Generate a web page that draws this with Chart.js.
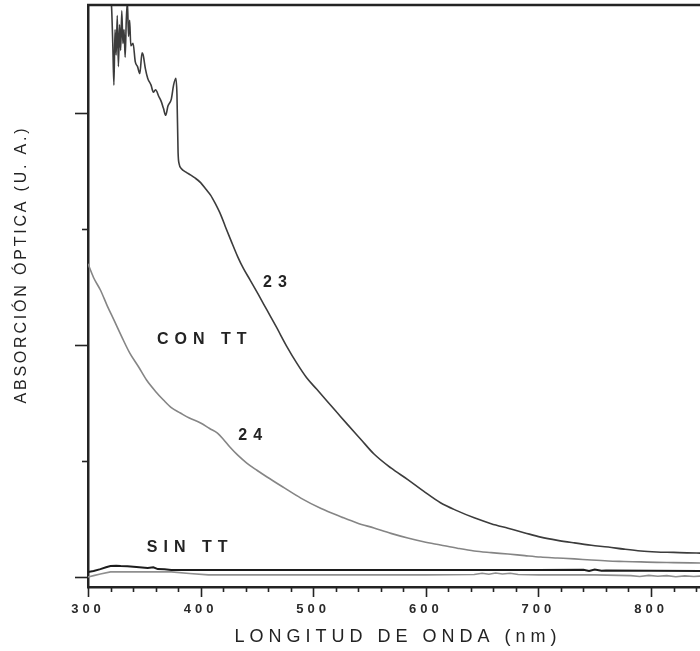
<!DOCTYPE html>
<html>
<head>
<meta charset="utf-8">
<title>Absorción óptica</title>
<script src="https://cdn.jsdelivr.net/npm/chart.js@4.4.1/dist/chart.umd.min.js"></script>
<style>
  html, body { margin: 0; padding: 0; background: #fff; }
  #wrap { width: 700px; height: 651px; }
</style>
</head>
<body>
<div id="wrap"><canvas id="spectra" width="700" height="651"></canvas></div>
<script>
// Sample 23, with heat treatment (CON TT)
const wl23 = [318, 321, 322, 323, 324, 325, 326, 327, 328, 329, 330, 331, 332, 333, 334, 335, 336, 337, 338,
  340, 342, 344, 346, 348, 349, 351, 353, 356, 358, 360, 363, 365, 367, 369, 371, 374, 376, 378, 379, 380,
  381, 383, 387, 391, 395, 400, 405, 409, 413, 418, 422, 427, 433, 438, 444, 451, 459, 467, 477, 485, 494, 503, 512,
  521, 530, 542, 554, 569, 584, 598, 613, 628, 643, 658, 673, 688, 702, 717, 732, 747, 762, 776, 791, 805, 820, 832, 844];
const abs23 = [2.62, 2.45, 2.30, 2.12, 2.36, 2.25, 2.42, 2.20, 2.38, 2.27, 2.44, 2.30, 2.36, 2.24, 2.40, 2.48, 2.33, 2.40, 2.29,
  2.30, 2.22, 2.20, 2.17, 2.26, 2.25, 2.19, 2.15, 2.12, 2.09, 2.10, 2.07, 2.05, 2.02, 1.99, 2.03, 2.06, 2.12, 2.15, 2.08, 1.83,
  1.78, 1.76, 1.745, 1.733, 1.72, 1.70, 1.67, 1.645, 1.61, 1.56, 1.51, 1.45, 1.38, 1.33, 1.28, 1.22, 1.15, 1.08, 0.99, 0.925, 0.86, 0.81, 0.76,
  0.71, 0.66, 0.595, 0.53, 0.47, 0.42, 0.37, 0.32, 0.285, 0.255, 0.23, 0.21, 0.19, 0.172, 0.158, 0.147, 0.137, 0.129, 0.12, 0.112, 0.108, 0.106, 0.104, 0.103];

// Sample 24, with heat treatment (CON TT)
const wl24 = [300, 305, 311, 317, 323, 330, 337, 345, 352, 360, 367, 374, 382, 390, 400, 408, 415, 420, 426, 433,
  441, 450, 459, 474, 489, 507, 525, 539, 554, 569, 584, 598, 613, 628, 643, 658, 673, 688, 702, 717, 732, 747, 762, 776, 791, 805, 820, 844];
const abs24 = [1.35, 1.29, 1.237, 1.17, 1.108, 1.035, 0.966, 0.905, 0.849, 0.80, 0.763, 0.73, 0.707, 0.685, 0.664, 0.64, 0.62, 0.595, 0.56, 0.525,
  0.491, 0.46, 0.431, 0.385, 0.34, 0.295, 0.259, 0.233, 0.211, 0.188, 0.168, 0.152, 0.138, 0.124, 0.112, 0.105, 0.099, 0.092, 0.086, 0.082, 0.078,
  0.073, 0.069, 0.067, 0.065, 0.063, 0.062, 0.060];

// Without heat treatment (SIN TT), dark trace
const wlSinDark = [300, 305, 311, 316, 320, 325, 329, 335, 343, 348, 353, 358, 362, 368, 374, 400, 500, 600, 700, 740, 745, 750, 756, 760, 800, 844];
const absSinDark = [0.022, 0.026, 0.034, 0.042, 0.047, 0.049, 0.047, 0.046, 0.043, 0.041, 0.039, 0.042, 0.034, 0.033, 0.030, 0.030,
  0.030, 0.030, 0.030, 0.031, 0.026, 0.032, 0.027, 0.028, 0.027, 0.026];

// Without heat treatment (SIN TT), grey trace
const wlSinGrey = [300, 305, 311, 320, 340, 360, 374, 390, 407, 450, 500, 550, 600, 643, 650, 656, 662, 668, 675, 682, 700,
  750, 782, 790, 798, 806, 814, 822, 830, 838, 844];
const absSinGrey = [0.0, 0.006, 0.013, 0.022, 0.022, 0.022, 0.022, 0.015, 0.009, 0.009, 0.009, 0.009, 0.009, 0.011, 0.016, 0.012,
  0.017, 0.013, 0.016, 0.011, 0.009, 0.009, 0.006, 0.002, 0.007, 0.003, 0.006, 0.001, 0.005, 0.002, 0.004];

// Axis ticks
const xTickLabels = [300, 400, 500, 600, 700, 800];
const xMinorTicks = [300, 320, 340, 360, 380, 400, 420, 440, 460, 480, 500, 520, 540, 560, 580, 600, 620, 640, 660, 680,
  700, 720, 740, 760, 780, 800, 820, 840];
const yTicks = [0, 0.5, 1, 1.5, 2];

// Text placed inside the plot
const noteText = ['23', 'CON TT', '24', 'SIN TT'];
const noteWl = [466, 401, 444, 388];
const noteAbs = [1.267, 1.022, 0.608, 0.125];

const FONT = '"Liberation Sans", Arial, Helvetica, sans-serif';
const INK = '#232323';

function toPoints(xs, ys) {
    return xs.map((x, i) => ({ x: x, y: ys[i] }));
}

// Frame, tick marks, axis titles and in-plot labels
const framePlugin = {
    id: 'framePlugin',
    beforeDraw(chart) {
        // wide spacing for the tick labels drawn by the x scale
        chart.ctx.letterSpacing = '4px';
    },
    afterDraw(chart) {
        const ctx = chart.ctx;
        const area = chart.chartArea;
        const xs = chart.scales.x;
        const ys = chart.scales.y;

        ctx.save();
        ctx.letterSpacing = '0px';
        ctx.strokeStyle = INK;

        // top border
        ctx.lineWidth = 2.5;
        ctx.beginPath();
        ctx.moveTo(area.left - 1, area.top);
        ctx.lineTo(area.right, area.top);
        ctx.stroke();

        // x tick marks (below the axis)
        ctx.lineWidth = 1.6;
        xMinorTicks.forEach(v => {
            const px = Math.round(xs.getPixelForValue(v)) + 0.5;
            const len = v % 100 === 0 ? 10 : 5;
            ctx.beginPath();
            ctx.moveTo(px, area.bottom);
            ctx.lineTo(px, area.bottom + len);
            ctx.stroke();
        });

        // y tick marks (left of the axis)
        yTicks.forEach(v => {
            const py = Math.round(ys.getPixelForValue(v)) + 0.5;
            const len = Number.isInteger(v) ? 13 : 6;
            ctx.beginPath();
            ctx.moveTo(area.left, py);
            ctx.lineTo(area.left - len, py);
            ctx.stroke();
        });

        ctx.fillStyle = INK;
        ctx.textAlign = 'center';
        ctx.textBaseline = 'middle';

        // x axis title
        ctx.font = '18px ' + FONT;
        ctx.letterSpacing = '5px';
        ctx.fillText('LONGITUD DE ONDA (nm)', (area.left + area.right) / 2 + 4, 637);

        // y axis title
        ctx.save();
        ctx.translate(22, 266);
        ctx.rotate(-Math.PI / 2);
        ctx.font = '16px ' + FONT;
        ctx.letterSpacing = '2.8px';
        ctx.fillText('ABSORCIÓN ÓPTICA (U. A.)', 1.4, 0);
        ctx.restore();

        // labels next to the curves
        ctx.font = 'bold 16px ' + FONT;
        ctx.letterSpacing = '6px';
        noteText.forEach((t, i) => {
            ctx.fillText(t, xs.getPixelForValue(noteWl[i]) + 3, ys.getPixelForValue(noteAbs[i]));
        });

        ctx.restore();
        ctx.letterSpacing = '0px';
    }
};

const ctx = document.getElementById('spectra');

const chart = new Chart(ctx, {
    type: 'line',
    data: {
        datasets: [
            {
                label: '23 CON TT',
                data: toPoints(wl23, abs23),
                borderColor: '#3c3c3c',
                borderWidth: 1.6,
                cubicInterpolationMode: 'monotone'
            },
            {
                label: '24 CON TT',
                data: toPoints(wl24, abs24),
                borderColor: '#858585',
                borderWidth: 1.6,
                cubicInterpolationMode: 'monotone'
            },
            {
                label: 'SIN TT (oscuro)',
                data: toPoints(wlSinDark, absSinDark),
                borderColor: '#1c1c1c',
                borderWidth: 2
            },
            {
                label: 'SIN TT (gris)',
                data: toPoints(wlSinGrey, absSinGrey),
                borderColor: '#8f8f8f',
                borderWidth: 1.6
            }
        ]
    },
    options: {
        responsive: false,
        animation: false,
        events: [],
        elements: {
            point: { radius: 0 },
            line: { tension: 0 }
        },
        layout: {
            padding: { top: 5, right: 0, bottom: 0, left: 0 }
        },
        plugins: {
            legend: { display: false },
            tooltip: { enabled: false },
            title: { display: false }
        },
        scales: {
            x: {
                type: 'linear',
                min: 300,
                max: 843.5,
                grid: { display: false, drawTicks: false },
                border: { display: true, color: INK, width: 2.5 },
                afterBuildTicks: scale => {
                    scale.ticks = xTickLabels.map(v => ({ value: v }));
                },
                afterFit: scale => {
                    scale.height = 64;
                },
                ticks: {
                    padding: 15,
                    maxRotation: 0,
                    autoSkip: false,
                    color: '#2a2a2a',
                    font: { family: FONT, size: 13, weight: 'bold' }
                }
            },
            y: {
                type: 'linear',
                min: -0.0431,
                max: 2.4655,
                grid: { display: false, drawTicks: false },
                border: { display: true, color: INK, width: 2.5 },
                ticks: { display: false },
                afterFit: scale => {
                    scale.width = 88;
                }
            }
        }
    },
    plugins: [framePlugin]
});
</script>
</body>
</html>
